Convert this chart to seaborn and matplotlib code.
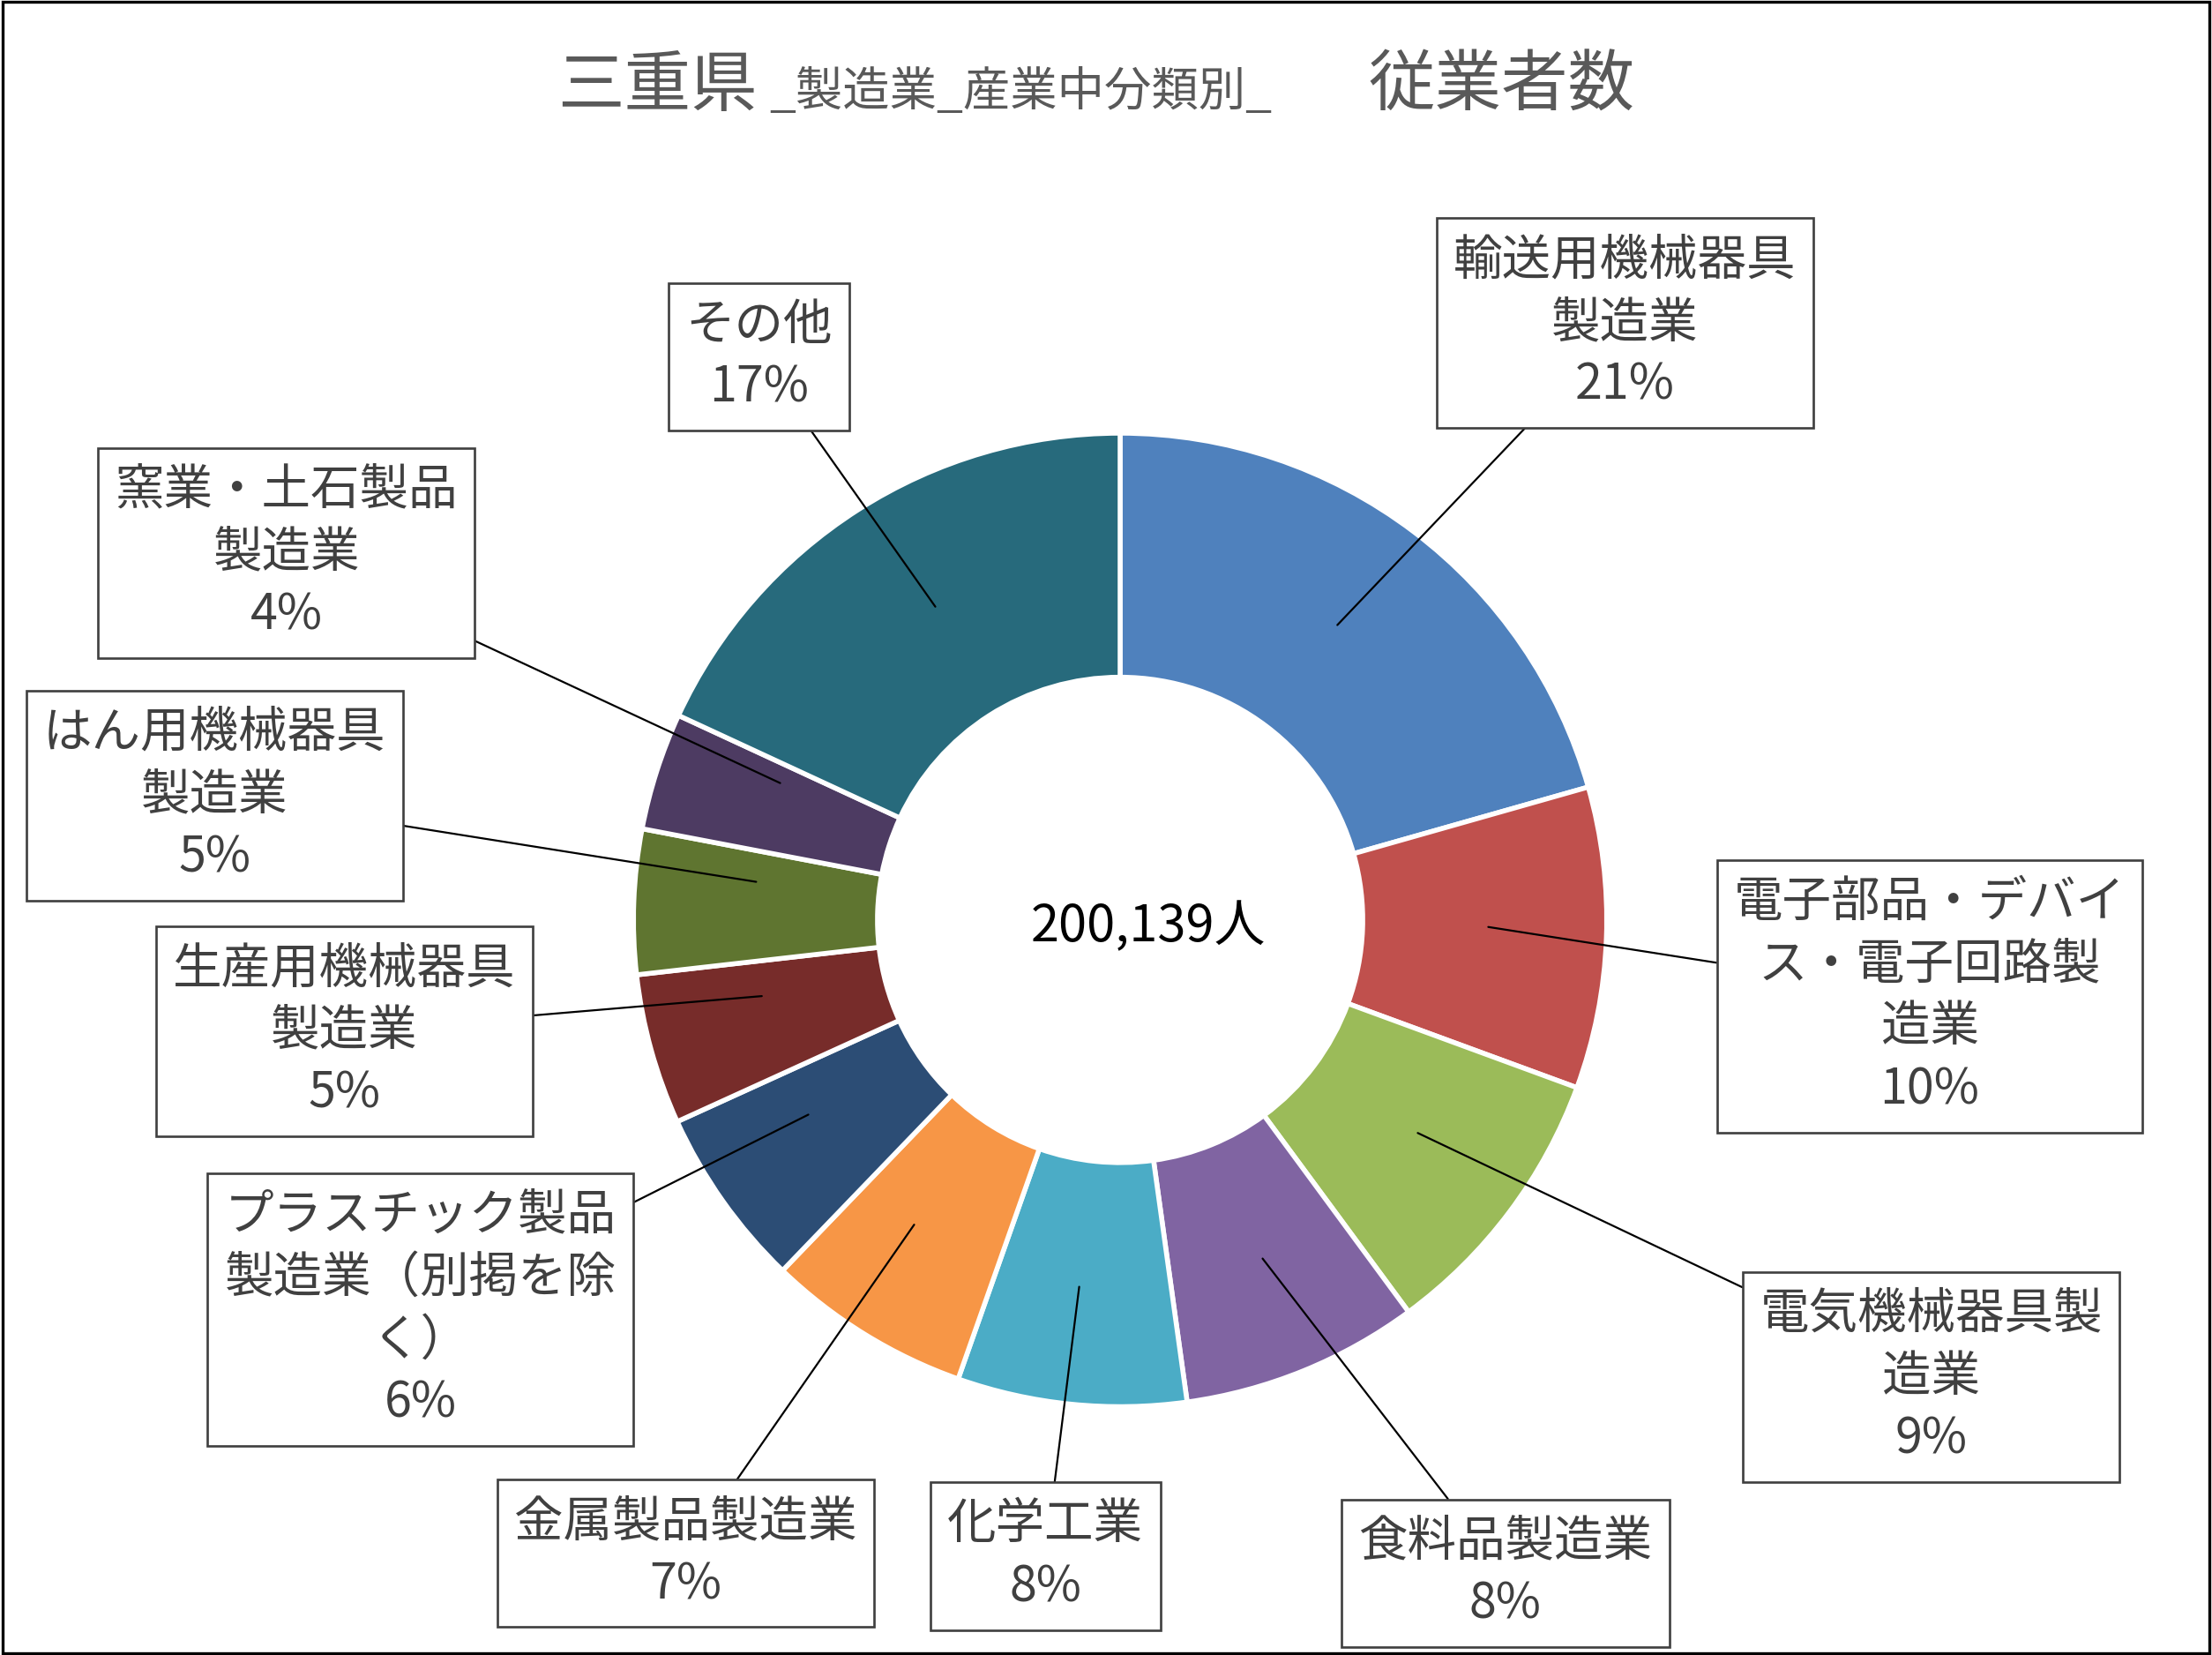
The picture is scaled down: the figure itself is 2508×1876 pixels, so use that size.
import matplotlib
matplotlib.use("Agg")
import matplotlib.pyplot as plt
import seaborn as sns

sns.set_theme(style="white")
plt.rcParams['font.family'] = ['Noto Sans CJK JP', 'DejaVu Sans']

categories = ["輸送用機械器具\n製造業", "電子部品・デバイ\nス・電子回路製\n造業", "電気機械器具製\n造業",
              "食料品製造業", "化学工業", "金属製品製造業", "プラスチック製品\n製造業（別掲を除\nく）",
              "生産用機械器具\n製造業", "はん用機械器具\n製造業", "窯業・土石製品\n製造業", "その他"]
shares = [20.6, 10.0, 9.3, 7.9, 7.6, 6.8, 6.0, 5.0, 4.8, 3.9, 18.1]
pct_labels = ["21%", "10%", "9%", "8%", "8%", "7%", "6%", "5%", "5%", "4%", "17%"]
colors = ["#4F81BD", "#C0504D", "#9BBB59", "#8064A2", "#4BACC6", "#F79646",
          "#2C4D75", "#772C2A", "#5F7530", "#4D3B62", "#276A7C"]
total_label = "200,139人"

W, H = 1568, 1173
fig = plt.figure(figsize=(15.675, 11.725), dpi=160)
ax = fig.add_axes([0, 0, 1, 1])
ax.set_xlim(0, W); ax.set_ylim(0, H); ax.set_aspect('equal'); ax.axis('off')

cx, cy, R = 794, H - 652, 345
ax.pie(shares, colors=colors, startangle=90, counterclock=False, center=(cx, cy), radius=R,
       wedgeprops=dict(width=R - 172, edgecolor='white', linewidth=2.5), frame=True)
ax.set_xlim(0, W); ax.set_ylim(0, H); ax.axis('off')

ax.text(cx + 20, cy - 5, total_label, ha='center', va='center', fontsize=26, color='black')

boxes = [(1152, 229, 948, 443), (1368, 706, 1055, 657), (1369, 976, 1005, 803),
         (1067, 1115, 895, 892), (741, 1103, 765, 912), (486, 1101, 648, 868),
         (298, 928, 573, 790), (244, 731, 540, 706), (152, 564, 536, 625),
         (203, 392, 553, 555), (538, 253, 663, 430)]
for cat, p, (bx, by, tx, ty) in zip(categories, pct_labels, boxes):
    ax.annotate(cat + "\n" + p, xy=(tx, H - ty), xytext=(bx, H - by), ha='center', va='center',
                fontsize=25, color='#404040', linespacing=1.3,
                bbox=dict(boxstyle='square,pad=0.35', fc='white', ec='#404040', lw=1.2),
                arrowprops=dict(arrowstyle='-', color='black', lw=1.0, shrinkA=0, shrinkB=0))

ax.text(395, H - 75, "三重県", fontsize=34, color='#595959', va='baseline')
ax.text(545, H - 75, "_製造業_産業中分類別_", fontsize=24, color='#595959', va='baseline')
ax.text(970, H - 75, "従業者数", fontsize=34, color='#595959', va='baseline')

fig.patches.append(plt.Rectangle((0.001, 0.001), 0.998, 0.998, transform=fig.transFigure,
                                 fill=False, ec='black', lw=1.5))
fig.savefig("out.png", dpi=160, facecolor='white')
